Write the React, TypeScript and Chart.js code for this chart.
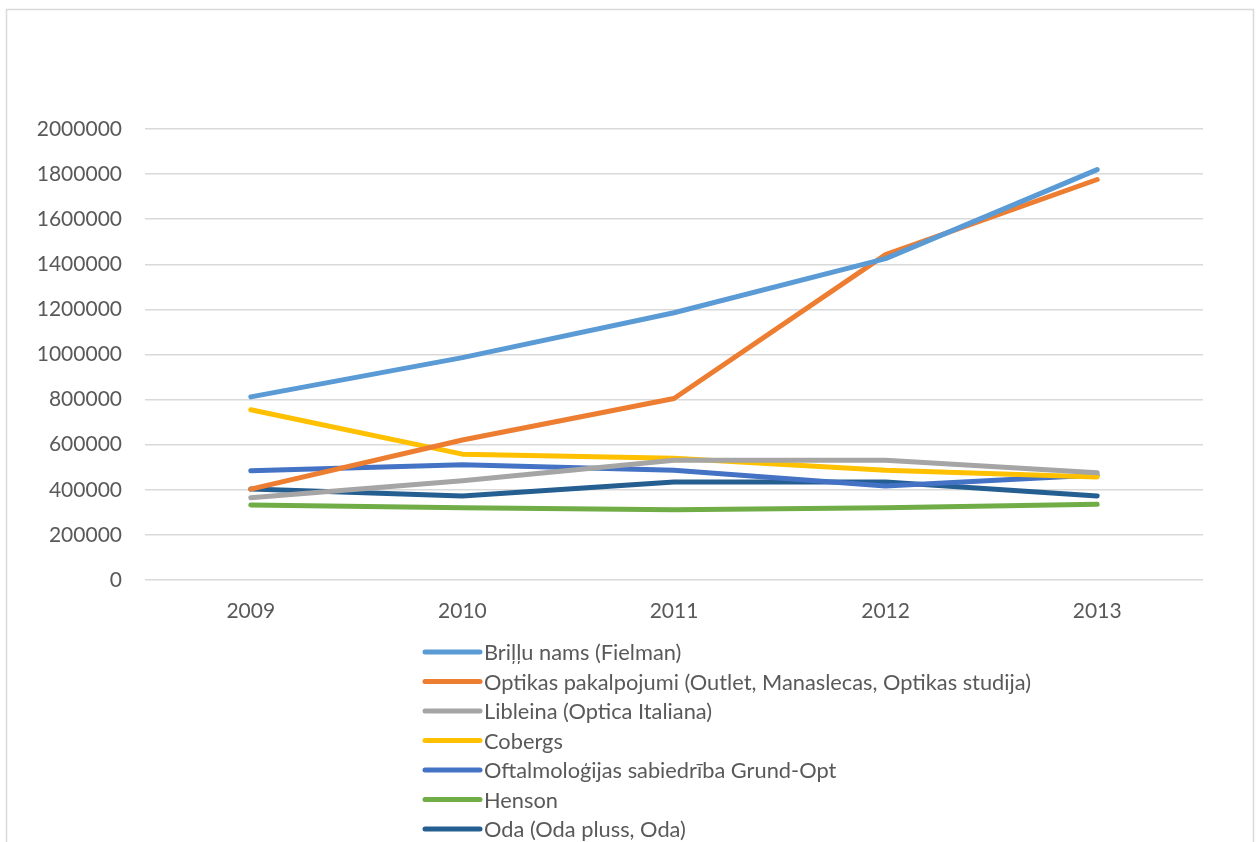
import React, { useEffect, useRef } from "react";
import { Chart, registerables } from "chart.js";

Chart.register(...registerables);

const years = ["2009", "2010", "2011", "2012", "2013"];
const seriesNames = [
  "Briļļu nams (Fielman)",
  "Optikas pakalpojumi (Outlet, Manaslecas, Optikas studija)",
  "Libleina (Optica Italiana)",
  "Cobergs",
  "Oftalmoloģijas sabiedrība Grund-Opt",
  "Henson",
  "Oda (Oda pluss, Oda)",
];
const briljuNams = [812000, 986000, 1185000, 1425000, 1820000];
const optikasPakalpojumi = [403000, 621000, 805000, 1443000, 1776000];
const libleina = [365000, 440000, 531000, 531000, 476000];
const cobergs = [755000, 558000, 540000, 487000, 457000];
const grundOpt = [484000, 511000, 487000, 417000, 466000];
const henson = [333000, 320000, 311000, 320000, 336000];
const oda = [403000, 373000, 435000, 435000, 373000];
const seriesValues = [briljuNams, optikasPakalpojumi, libleina, cobergs, grundOpt, henson, oda];
const colors = ["#5B9BD5", "#ED7D31", "#A5A5A5", "#FFC000", "#4472C4", "#70AD47", "#255E91"];

const FONT = "Lato, 'Open Sans', sans-serif";

const frameAndLegend = {
  id: "frameAndLegend",
  afterDraw(chart: any) {
    const ctx = chart.ctx;
    ctx.save();
    ctx.strokeStyle = "#d9d9d9";
    ctx.lineWidth = 1.5;
    ctx.strokeRect(6.5, 9.5, 1247, 900);
    const x0 = 425;
    const x1 = 480;
    const yStart = 652;
    const step = 29.5;
    ctx.font = `21.8px ${FONT}`;
    ctx.textBaseline = "middle";
    ctx.textAlign = "left";
    chart.data.datasets.forEach((ds: any, i: number) => {
      const y = yStart + i * step;
      ctx.strokeStyle = ds.borderColor;
      ctx.lineWidth = 5;
      ctx.lineCap = "round";
      ctx.beginPath();
      ctx.moveTo(x0, y);
      ctx.lineTo(x1, y);
      ctx.stroke();
      ctx.fillStyle = "#595959";
      ctx.fillText(ds.label, x1 + 4, y + 1);
    });
    ctx.restore();
  },
};

export default function App() {
  const ref = useRef<HTMLCanvasElement>(null);
  useEffect(() => {
    if (!ref.current) return;
    const chart = new Chart(ref.current, {
      type: "line",
      data: {
        labels: years,
        datasets: seriesNames.map((name, i) => ({
          label: name,
          data: seriesValues[i],
          borderColor: colors[i],
          backgroundColor: colors[i],
          borderWidth: 5,
          borderCapStyle: "round" as const,
          borderJoinStyle: "round" as const,
          pointRadius: 0,
          tension: 0,
        })),
      },
      options: {
        animation: false,
        responsive: false,
        maintainAspectRatio: false,
        layout: { padding: { top: 129, right: 57, bottom: 202, left: 0 } },
        plugins: { legend: { display: false }, tooltip: { enabled: false } },
        scales: {
          x: {
            offset: true,
            grid: { display: false, drawTicks: false },
            border: { display: false },
            ticks: { color: "#595959", font: { family: FONT, size: 21 }, padding: 19 },
            afterFit: (s: any) => { s.height = 60; },
          },
          y: {
            min: 0,
            max: 2000000,
            grid: { color: "#d9d9d9", lineWidth: 1.5, drawTicks: false },
            border: { display: false },
            ticks: {
              stepSize: 200000,
              color: "#595959",
              font: { family: FONT, size: 21 },
              padding: 23,
              callback: (v: any) => String(v),
            },
            afterFit: (s: any) => { s.width = 145; },
          },
        },
      },
      plugins: [frameAndLegend],
    });
    return () => chart.destroy();
  }, []);
  return (
    <div style={{ position: "fixed", left: 0, top: 0, width: 1260, height: 842, background: "#fff" }}>
      <canvas ref={ref} width={1260} height={842} style={{ width: 1260, height: 842 }} />
    </div>
  );
}
